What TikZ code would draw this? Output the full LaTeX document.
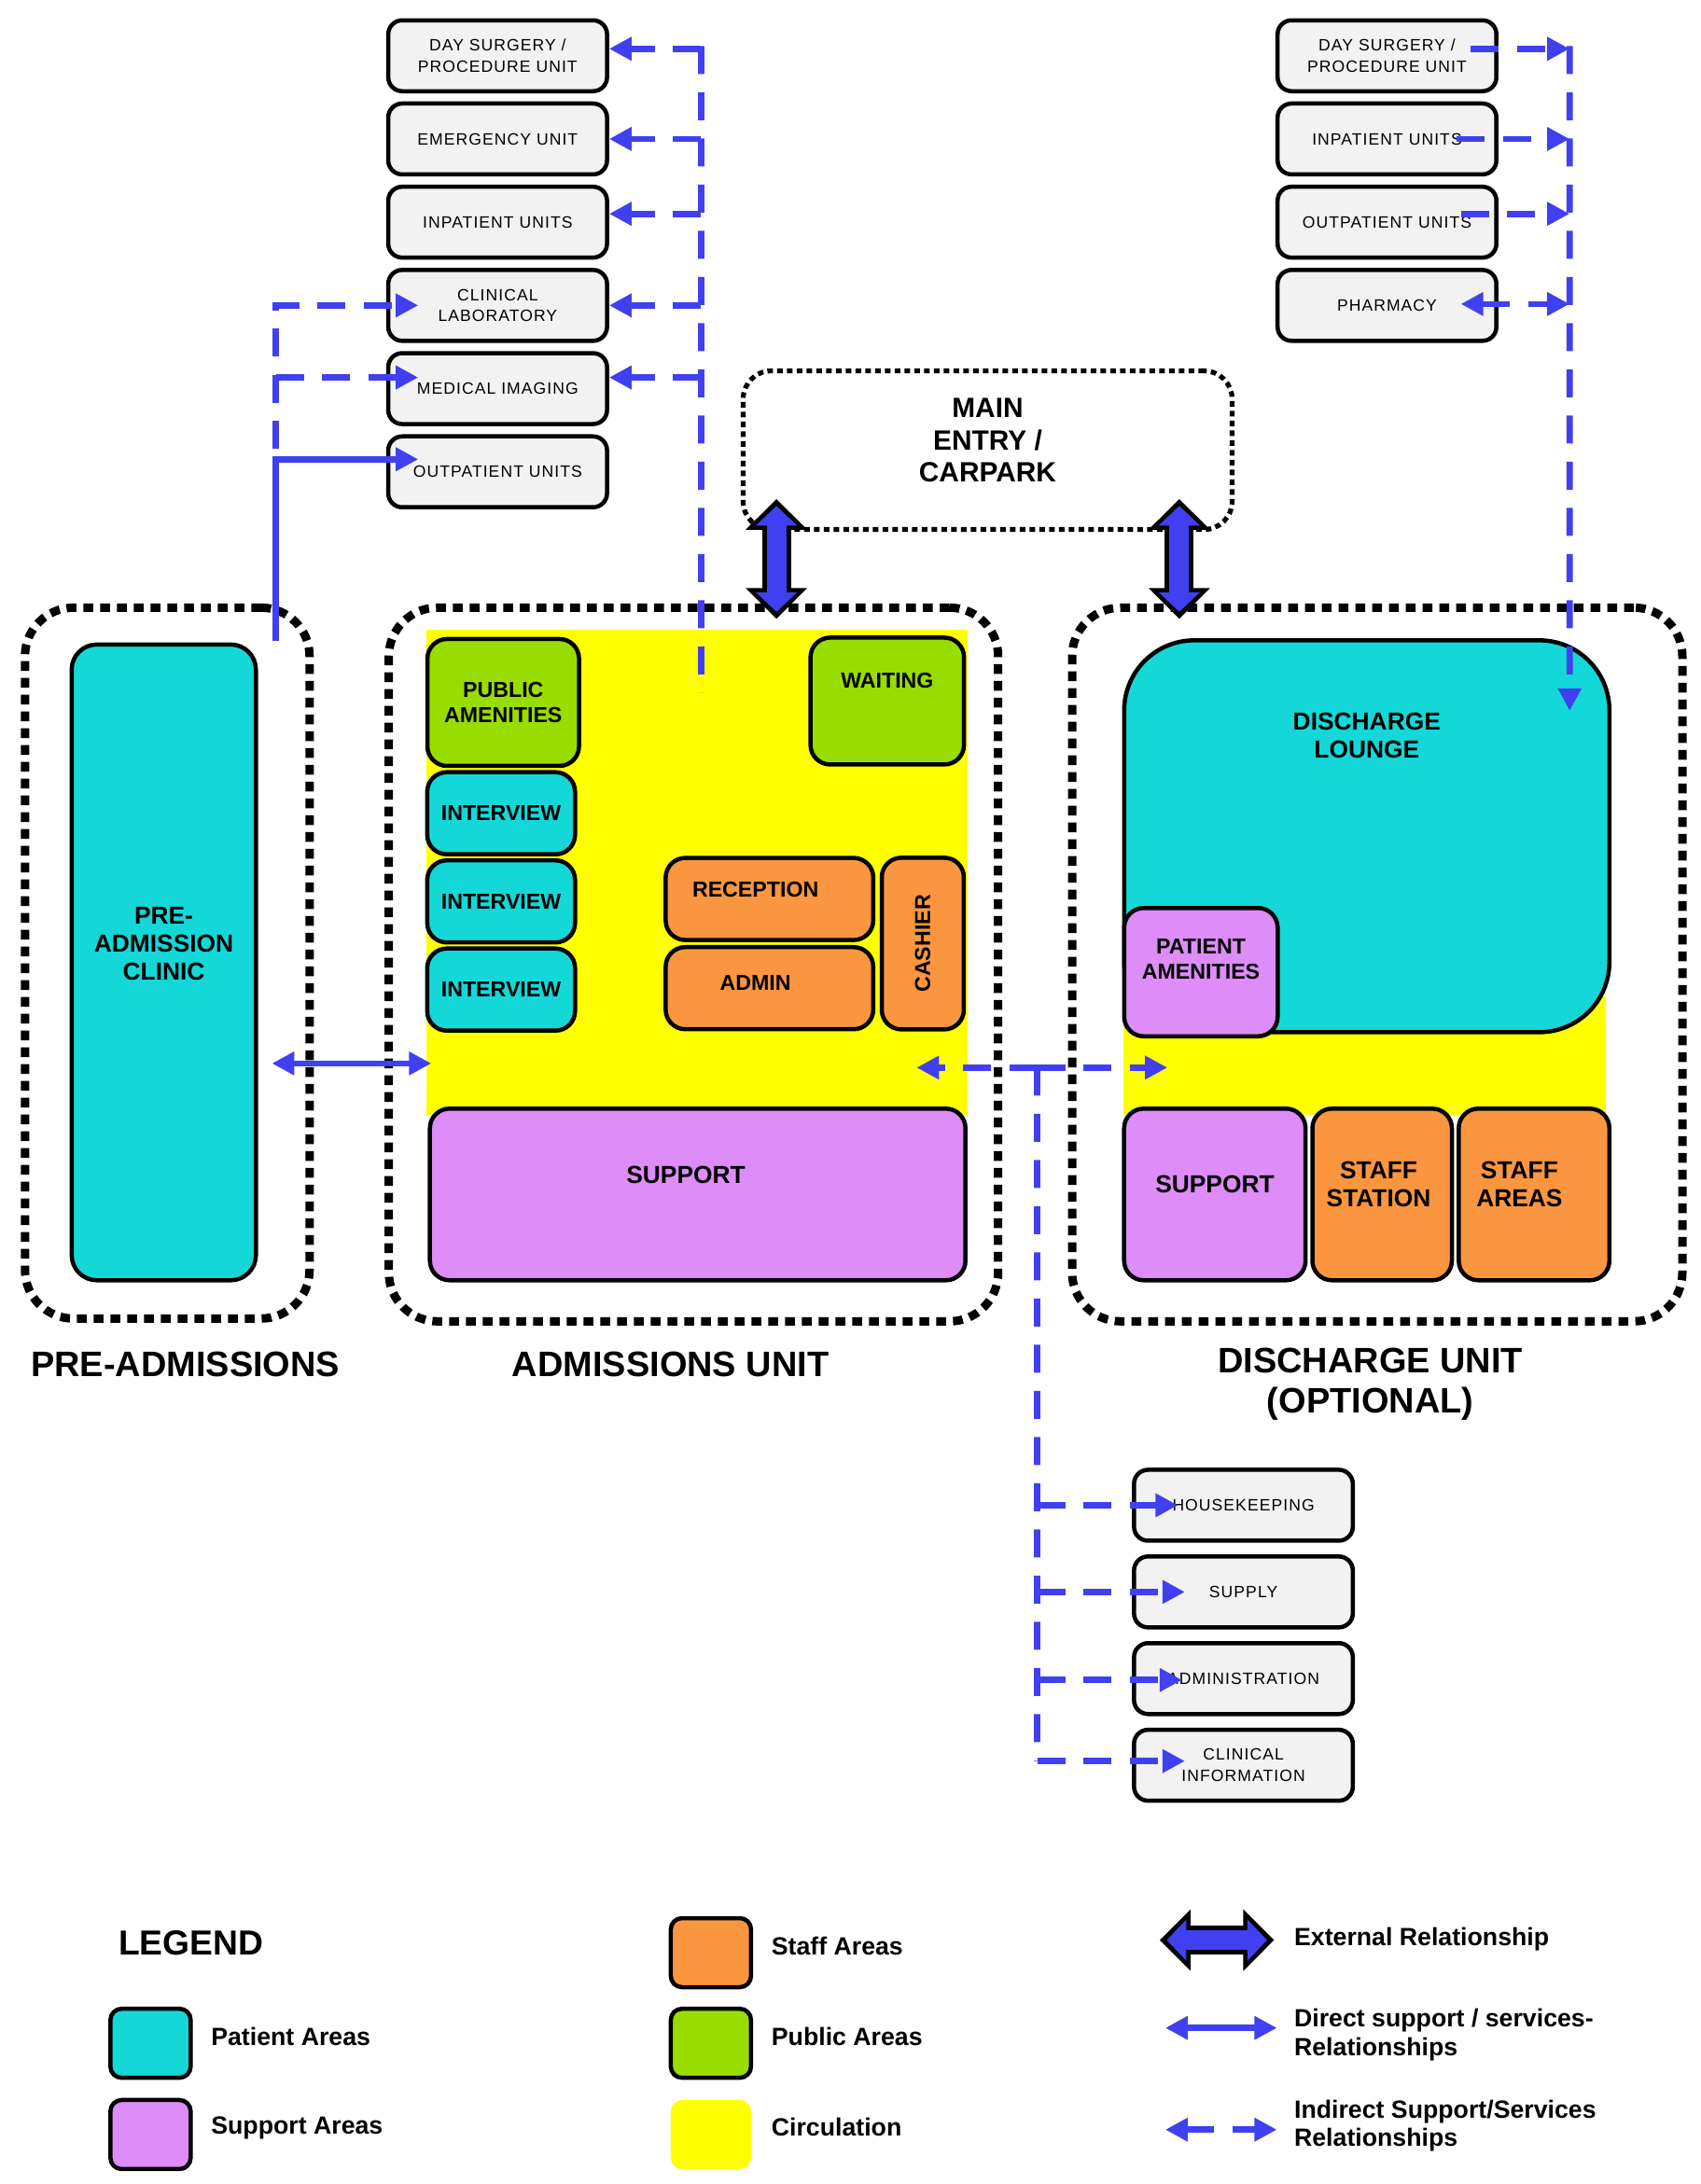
\documentclass[tikz,border=0pt]{standalone}
\usepackage{fontspec}
\setmainfont{Liberation Sans}
\newfontfamily\boxfont[LetterSpace=6]{Liberation Sans}
\usepackage{tikz}
\usetikzlibrary{arrows.meta,positioning,calc}

\definecolor{patient}{RGB}{20,216,216}
\definecolor{support}{RGB}{221,140,248}
\definecolor{staff}{RGB}{251,150,64}
\definecolor{public}{RGB}{153,221,0}
\definecolor{circulation}{RGB}{255,255,0}
\definecolor{relblue}{RGB}{64,64,240}
\definecolor{boxgray}{RGB}{242,242,242}

\tikzstyle{unit} = [draw, line width=0.45mm, rounded corners=1.5mm, fill=boxgray,
    minimum width=23.45mm, minimum height=7.6mm, inner sep=0pt, align=center,
    font=\boxfont\fontsize{5}{6.4}\selectfont]
\tikzstyle{room} = [draw, line width=0.45mm, rounded corners=2.1mm, inner sep=0pt,
    align=center, font=\bfseries\fontsize{7.5}{8.5}\selectfont]
\tikzstyle{smallroom} = [room, font=\bfseries\fontsize{6.6}{7.6}\selectfont]
\tikzstyle{lbl} = [inner sep=0pt, align=center, font=\bfseries\fontsize{7.5}{8.5}\selectfont]
\tikzstyle{slbl} = [lbl, font=\bfseries\fontsize{6.6}{7.6}\selectfont]
\tikzstyle{zone} = [draw, line width=0.9mm, dash pattern=on 1.05mm off 0.75mm,
    rounded corners=5.2mm, inner sep=0pt]
\tikzstyle{entrybox} = [draw, line width=0.52mm, dash pattern=on 0.6mm off 0.45mm,
    rounded corners=3mm, inner sep=0pt]
\tikzstyle{entrylbl} = [lbl, font=\bfseries\fontsize{8.5}{9.8}\selectfont]
\tikzstyle{heading} = [align=center, inner sep=0pt, font=\bfseries\fontsize{10.8}{12.3}\selectfont]
\tikzstyle{legtext} = [anchor=west, align=left, inner sep=0pt,
    font=\bfseries\fontsize{7.6}{8.6}\selectfont]
\tikzstyle{swatch} = [draw, line width=0.45mm, rounded corners=1.2mm,
    minimum width=8.6mm, minimum height=7.4mm]
\tikzstyle{direct} = [draw=relblue, line width=0.67mm]
\tikzstyle{indirect} = [direct, dash pattern=on 3mm off 1.95mm]
\tikzstyle{extout} = [draw=black, line width=3.1mm,
    {Triangle[length=3.3mm,width=6.4mm]}-{Triangle[length=3.3mm,width=6.4mm]}]
\tikzstyle{extin} = [draw=relblue, line width=2.1mm,
    {Triangle[length=2.1mm,width=4.3mm]}-{Triangle[length=2.1mm,width=4.3mm]},
    shorten <=0.75mm, shorten >=0.75mm]
\tikzset{>={Triangle[length=2.4mm,width=2.4mm]}}

\begin{document}
\begin{tikzpicture}[x=0.1494mm, y=-0.1494mm]
	\useasboundingbox (0,0) rectangle (1220,1567);

	% unit outlines
	\node[zone, minimum width=30.5mm, minimum height=76.2mm] (pre) at (120,691) {};
	\node[zone, minimum width=65.3mm, minimum height=76.5mm] (adm) at (497.5,692) {};
	\node[zone, minimum width=65.4mm, minimum height=76.5mm] (dis) at (988,692) {};
	\node[entrybox, minimum width=52.4mm, minimum height=17mm,
		label={[entrylbl, yshift=1.05mm]center:MAIN\\ENTRY /\\CARPARK}] (entry) at (708.5,323) {};

	% circulation
	\node[fill=circulation, inner sep=0pt, minimum width=58mm, minimum height=52mm] (admcirc) at (500,626) {};
	\node[fill=circulation, inner sep=0pt, minimum width=51.7mm, minimum height=12.7mm] (discirc) at (979,757.5) {};

	% pre-admissions
	\node[room, fill=patient, rounded corners=2.7mm, minimum width=19.75mm, minimum height=68.15mm,
		label={[lbl, yshift=2mm]center:PRE-\\ADMISSION\\CLINIC}] (clinic) at (117.5,690.5) {};

	% admissions unit
	\node[smallroom, fill=public, minimum width=16.25mm, minimum height=13.6mm] (pubam) at (361,504) {PUBLIC\\AMENITIES};
	\node[smallroom, fill=public, minimum width=16.45mm, minimum height=13.6mm,
		label={[slbl, yshift=2.24mm]center:WAITING}] (wait) at (636.5,503) {};
	\node[smallroom, fill=patient, minimum width=15.85mm, minimum height=8.8mm] (int1) at (359.5,583.5) {INTERVIEW};
	\node[smallroom, fill=patient, minimum width=15.85mm, minimum height=8.8mm, below=0.2mm of int1] (int2) {INTERVIEW};
	\node[smallroom, fill=patient, minimum width=15.85mm, minimum height=8.8mm, below=0.2mm of int2] (int3) {INTERVIEW};
	\node[smallroom, fill=staff, minimum width=22.25mm, minimum height=8.8mm,
		label={[slbl, xshift=-1.5mm, yshift=1.05mm]center:RECEPTION}] (recep) at (552,645) {};
	\node[smallroom, fill=staff, minimum width=22.25mm, minimum height=8.8mm,
		label={[slbl, xshift=-1.5mm, yshift=0.6mm]center:ADMIN}] (admin) at (552,709) {};
	\node[smallroom, fill=staff, rotate=90, minimum width=18.4mm, minimum height=8.8mm] (cash) at (662,677) {CASHIER};
	\node[room, fill=support, minimum width=57.4mm, minimum height=18.4mm,
		label={[lbl, xshift=-1.27mm, yshift=2.1mm]center:SUPPORT}] (admsup) at (500.5,857) {};

	% discharge unit
	\node[room, fill=patient, rounded corners=7.5mm, minimum width=52mm, minimum height=42mm,
		label={[lbl, yshift=10.8mm]center:DISCHARGE\\LOUNGE}] (lounge) at (980.5,600) {};
	\node[smallroom, fill=support, minimum width=16.45mm, minimum height=13.75mm,
		label={[slbl, yshift=1.4mm]center:PATIENT\\AMENITIES}] (patam) at (861.5,697.5) {};
	\node[room, fill=support, minimum width=19.45mm, minimum height=18.4mm,
		label={[lbl, yshift=1.05mm]center:SUPPORT}] (dissup) at (871.5,857) {};
	\node[room, fill=staff, minimum width=14.95mm, minimum height=18.4mm,
		label={[lbl, xshift=-0.37mm, yshift=1.05mm]center:STAFF\\STATION}] (station) at (991.5,857) {};
	\node[room, fill=staff, minimum width=16.15mm, minimum height=18.4mm,
		label={[lbl, xshift=-1.57mm, yshift=1.05mm]center:STAFF\\AREAS}] (staffar) at (1100.5,857) {};

	% other departments
	\node[unit] (ds1) at (357,40) {DAY SURGERY /\\PROCEDURE UNIT};
	\node[unit, below=0.87mm of ds1] (emerg) {EMERGENCY UNIT};
	\node[unit, below=0.87mm of emerg] (ip1) {INPATIENT UNITS};
	\node[unit, below=0.87mm of ip1] (lab) {CLINICAL\\LABORATORY};
	\node[unit, below=0.87mm of lab] (img) {MEDICAL IMAGING};
	\node[unit, below=0.87mm of img] (op1) {OUTPATIENT UNITS};

	\node[unit] (ds2) at (995,40) {DAY SURGERY /\\PROCEDURE UNIT};
	\node[unit, below=0.87mm of ds2] (ip2) {INPATIENT UNITS};
	\node[unit, below=0.87mm of ip2] (op2) {OUTPATIENT UNITS};
	\node[unit, below=0.87mm of op2] (pharm) {PHARMACY};

	\node[unit] (house) at (892,1080) {HOUSEKEEPING};
	\node[unit, below=1.24mm of house] (supply) {SUPPLY};
	\node[unit, below=1.24mm of supply] (admin2) {ADMINISTRATION};
	\node[unit, below=1.24mm of admin2] (clininfo) {CLINICAL\\INFORMATION};

	% headings
	\node[heading] (preh) at (133,979) {PRE-ADMISSIONS};
	\node[heading] (admh) at (481,979) {ADMISSIONS UNIT};
	\node[heading] (dish) at (983,993) {DISCHARGE UNIT\\(OPTIONAL)};

	% external relationships
	\coordinate (ent1) at (557,358);
	\coordinate (adm1) at (557,444);
	\coordinate (ent2) at (846,358);
	\coordinate (dis1) at (846,444);
	\draw[extout] (ent1) -- (adm1);
	\draw[extin] (ent1) -- (adm1);
	\draw[extout] (ent2) -- (dis1);
	\draw[extin] (ent2) -- (dis1);

	% direct and indirect relationships, left
	\coordinate (trunk) at (198,460);
	\coordinate (trunktop) at (198,322);
	\draw[direct, <->] ($(clinic.east)+(10,72.5)$) to ($(admcirc.west)+(4,137)$);
	\draw[direct, ->] (trunk) |- ($(op1.west)+(23,-9)$);
	\draw[indirect, ->] (trunktop) |- ($(lab.west)+(23,0)$);
	\draw[indirect, ->] ($(img.west)+(-79,-8)$) to ($(img.west)+(23,-8)$);

	\coordinate (rfoot) at (503,497);
	\draw[indirect] ($(ds1.east)+(66,-7)$) to (rfoot);
	\draw[indirect, ->] ($(ds1.east)+(66,-5)$) to ($(ds1.east)+(0,-5)$);
	\draw[indirect, ->] ($(emerg.east)+(66,0)$) to (emerg.east);
	\draw[indirect, ->] ($(ip1.east)+(66,-6)$) to ($(ip1.east)+(0,-6)$);
	\draw[indirect, ->] ($(lab.east)+(66,0)$) to (lab.east);
	\draw[indirect, ->] ($(img.east)+(66,-8)$) to ($(img.east)+(0,-8)$);

	% indirect relationships, right
	\draw[indirect, ->] ($(ds2.east)+(51,-7)$) to ($(lounge.north east)+(-30,52)$);
	\draw[indirect, ->] ($(ds2.east)+(-20,-5)$) to ($(ds2.east)+(51,-5)$);
	\draw[indirect, ->] ($(ip2.east)+(-30,0)$) to ($(ip2.east)+(51,0)$);
	\draw[indirect, ->] ($(op2.east)+(-27,-6)$) to ($(op2.east)+(51,-6)$);
	\draw[indirect, <->] ($(pharm.east)+(-27,-1)$) to ($(pharm.east)+(51,-1)$);

	% indirect relationships, support services
	\coordinate (hub) at (744,766);
	\draw[indirect] (hub) to ($(clininfo.west)+(-68,-3)$);
	\draw[indirect, ->] (hub) to ($(admcirc.east)+(-37,140)$);
	\draw[indirect, ->] (hub) to ($(discirc.west)+(32,8.5)$);
	\draw[indirect, ->] ($(house.west)+(-68,0)$) to ($(house.west)+(33,0)$);
	\draw[indirect, ->] ($(supply.west)+(-68,0)$) to ($(supply.west)+(38,0)$);
	\draw[indirect, ->] ($(admin2.west)+(-68,1)$) to ($(admin2.west)+(36,1)$);
	\draw[indirect, ->] ($(clininfo.west)+(-68,-3)$) to ($(clininfo.west)+(38,-3)$);

	% legend
	\node[heading, font=\bfseries\fontsize{10.6}{12}\selectfont] (legend) at (137,1394) {LEGEND};
	\node[swatch, fill=patient] (swpat) at (108,1466) {};
	\node[swatch, fill=support] (swsup) at (108,1531.5) {};
	\node[swatch, fill=staff] (swstaff) at (510,1401) {};
	\node[swatch, fill=public] (swpub) at (510,1466) {};
	\node[swatch, draw=none, fill=circulation] (swcirc) at (510,1531.5) {};
	\node[legtext, right=1.9mm of swpat, yshift=0.75mm] (tpat) {Patient Areas};
	\node[legtext, right=1.9mm of swsup, yshift=0.7mm] (tsup) {Support Areas};
	\node[legtext, right=1.9mm of swstaff, yshift=0.75mm] (tstaff) {Staff Areas};
	\node[legtext, right=1.9mm of swpub, yshift=0.75mm] (tpub) {Public Areas};
	\node[legtext, right=1.9mm of swcirc, yshift=0.8mm] (tcirc) {Circulation};

	\coordinate (ext1) at (832,1392);
	\coordinate (ext2) at (914,1392);
	\draw[extout] (ext1) -- (ext2);
	\draw[extin] (ext1) -- (ext2);
	\node[legtext] (text) at (928,1391) {External Relationship};
	\coordinate (dir1) at (836,1455);
	\coordinate (dir2) at (916,1455);
	\draw[direct, <->] (dir1) -- (dir2);
	\node[legtext] (tdir) at (928,1460) {Direct support / services-\\Relationships};
	\coordinate (ind1) at (836,1528);
	\coordinate (ind2) at (916,1528);
	\draw[indirect, <->] (ind1) -- (ind2);
	\node[legtext] (tind) at (928,1525) {Indirect Support/Services\\Relationships};
\end{tikzpicture}
\end{document}
